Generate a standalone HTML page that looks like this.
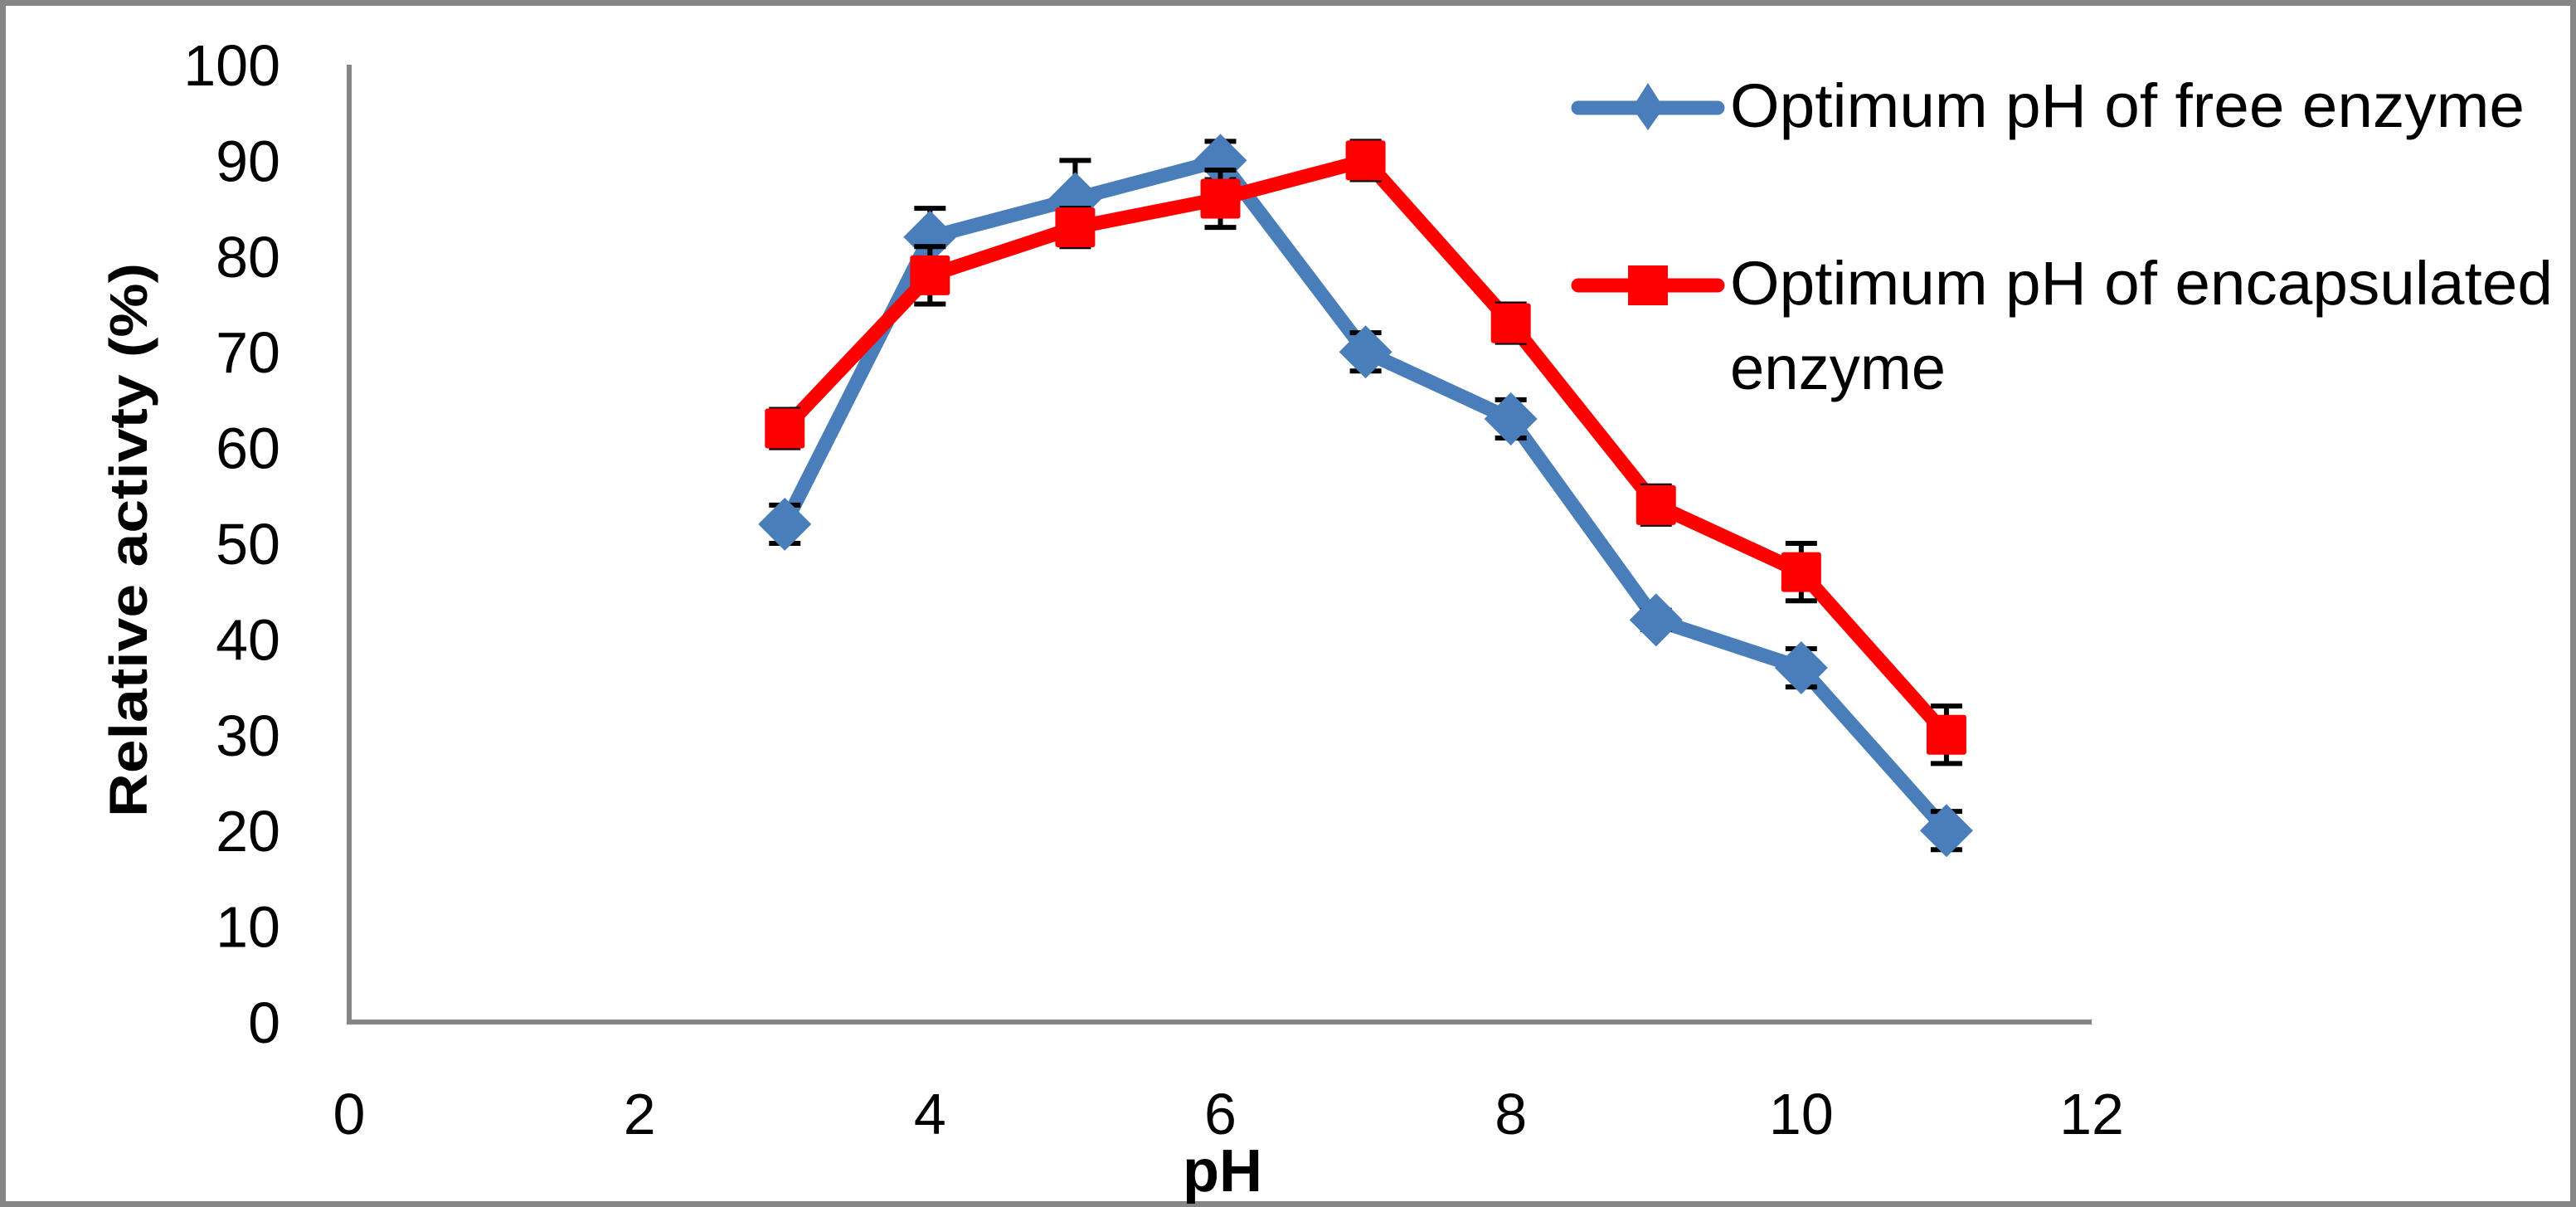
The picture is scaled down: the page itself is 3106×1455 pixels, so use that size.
<!DOCTYPE html>
<html><head><meta charset="utf-8"><style>
html,body{margin:0;padding:0;background:#fff}
svg{display:block}
text{font-family:"Liberation Sans",sans-serif;fill:#000}
</style></head><body>
<svg id="chart" width="3106" height="1455" viewBox="0 0 3106 1455" xmlns="http://www.w3.org/2000/svg">
<rect x="3.5" y="3.5" width="3099" height="1448" fill="#fff" stroke="#868686" stroke-width="7"/>
<g id="axes"></g>
<g id="series"></g>
<g id="legend">
  <g>
    <line x1="1903" y1="130" x2="2071" y2="130" stroke="#4a7ebb" stroke-width="17" stroke-linecap="round"/>
    <polygon points="1987,100 2006,130 1987,157 1968,130" fill="#4a7ebb"/>
    <text x="2086" y="153" font-size="74" textLength="958" lengthAdjust="spacingAndGlyphs">Optimum pH of free enzyme</text>
  </g>
  <g>
    <line x1="1903" y1="344" x2="2071" y2="344" stroke="#ff0000" stroke-width="17" stroke-linecap="round"/>
    <rect x="1963" y="320" width="48" height="48" fill="#ff0000"/>
    <text x="2086" y="367" font-size="74" textLength="992" lengthAdjust="spacingAndGlyphs">Optimum pH of encapsulated</text>
    <text x="2086" y="469" font-size="74" textLength="260" lengthAdjust="spacingAndGlyphs">enzyme</text>
  </g>
</g>
<text transform="translate(177,651) rotate(-90)" text-anchor="middle" font-size="64" font-weight="bold" textLength="668" lengthAdjust="spacingAndGlyphs">Relative activty (%)</text>
<text x="1474" y="1436" text-anchor="middle" font-size="72" font-weight="bold">pH</text>
</svg>
<script>
const xTicks = [0, 2, 4, 6, 8, 10, 12];
const yTicks = [0, 10, 20, 30, 40, 50, 60, 70, 80, 90, 100];
const phValues = [3, 4, 5, 6, 7, 8, 9, 10, 11];
const freeActivity = [52, 82, 86, 90, 70, 63, 42, 37, 20];
const freeError = [2, 3, 4, 2, 2, 2, 1, 2, 2];
const encActivity = [62, 78, 83, 86, 90, 73, 54, 47, 30];
const encError = [2, 3, 2, 3, 2, 2, 2, 3, 3];

const NS = "http://www.w3.org/2000/svg";
const X0 = 421, X1 = 2522, Y0 = 1232, Y1 = 78;
function xs(v){ return X0 + (v - 0) / 12 * (X1 - X0); }
function ys(v){ return Y0 - (v - 0) / 100 * (Y0 - Y1); }
function mk(tag, attrs, parent){
  const e = document.createElementNS(NS, tag);
  for (const k in attrs) e.setAttribute(k, attrs[k]);
  parent.appendChild(e);
  return e;
}
const axes = document.getElementById('axes');
const yAxis = mk('line', {x1: X0, y1: Y1, x2: X0, y2: Y0, stroke: '#868686', 'stroke-width': 6}, axes);


const xAxis = mk('line', {x1: X0 - 3, y1: Y0, x2: X1, y2: Y0, stroke: '#868686', 'stroke-width': 6}, axes);


yTicks.forEach(t => {
  const tx = mk('text', {x: 338, y: ys(t) + 25, 'text-anchor': 'end', 'font-size': 70}, axes);
  tx.textContent = t;
  
  
});
xTicks.forEach(t => {
  const tx = mk('text', {x: xs(t), y: 1367, 'text-anchor': 'middle', 'font-size': 70}, axes);
  tx.textContent = t;
  
  
});

const series = document.getElementById('series');
function drawSeries(vals, errs, color, kind, name){
  const g = mk('g', {}, series);
  
  
  const pts = phValues.map((p, i) => xs(p) + ',' + ys(vals[i])).join(' ');
  const ln = mk('polyline', {points: pts, fill: 'none', stroke: color, 'stroke-width': 17, 'stroke-linejoin': 'round'}, g);
  
  
  phValues.forEach((p, i) => {
    const cx = xs(p), top = ys(vals[i] + errs[i]), bot = ys(vals[i] - errs[i]);
    const eb = mk('path', {d: `M${cx},${top}V${bot}M${cx-19},${top}H${cx+19}M${cx-19},${bot}H${cx+19}`, stroke: '#000', 'stroke-width': 6, fill: 'none'}, g);
    
    
  });
  phValues.forEach((p, i) => {
    const cx = xs(p), cy = ys(vals[i]);
    let m;
    if (kind === 'diamond') {
      m = mk('polygon', {points: `${cx},${cy-32} ${cx+32},${cy} ${cx},${cy+32} ${cx-32},${cy}`, fill: color}, g);
    } else {
      m = mk('rect', {x: cx - 24, y: cy - 24, width: 48, height: 48, rx: 3, fill: color}, g);
    }
    
    
  });
}
drawSeries(freeActivity, freeError, '#4a7ebb', 'diamond', 'free-enzyme-series');
drawSeries(encActivity, encError, '#ff0000', 'square', 'encapsulated-enzyme-series');
</script>
</body></html>
